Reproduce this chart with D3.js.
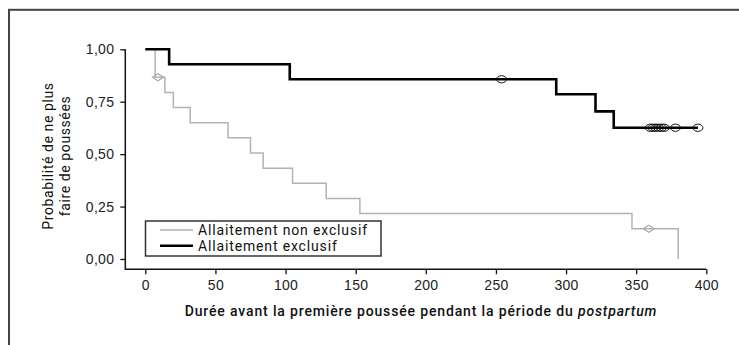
<!DOCTYPE html>
<html>
<head>
<meta charset="utf-8">
<script src="https://cdn.jsdelivr.net/npm/d3@7/dist/d3.min.js"></script>
<style>
  body { margin: 0; background: #fff; }
  svg { display: block; font-family: Roboto, "Noto Sans", sans-serif; }
  .tick text { font-size: 14px; fill: #222; letter-spacing: 0.3px; }
  .axis-title { font-size: 14px; fill: #111; }
</style>
</head>
<body>
<div class="chart"></div>
<script>
// Kaplan-Meier curves, values

// non exclusive breastfeeding (gray)
var grayTimes = [0, 7, 14, 20, 32, 59, 75, 84, 105, 129, 153, 347, 380];
var graySurv = [1, 0.867, 0.794, 0.722, 0.650, 0.578, 0.505, 0.433, 0.361, 0.289, 0.217, 0.144, 0];
var grayCensor = [9, 359];

// exclusive breastfeeding (black)
var blackTimes = [0, 17, 103, 293, 321, 334];
var blackSurv = [1, 0.929, 0.857, 0.786, 0.704, 0.626];
var blackEnd = 394;
var blackCensor = [254, 360, 362, 364, 366, 368, 370, 378, 394];

var xTicks = [0, 50, 100, 150, 200, 250, 300, 350, 400];
var yTicks = [0, 0.25, 0.5, 0.75, 1];
var legendLabels = ["Allaitement non exclusif", "Allaitement exclusif"];

var svgWidth = 739;
var svgHeight = 345;

var svg = d3.select(".chart")
  .append("svg")
  .attr("width", svgWidth)
  .attr("height", svgHeight);

// outer frame (runs off the right and bottom edges)
svg.append("rect")
  .attr("x", 9)
  .attr("y", 9.8)
  .attr("width", 800)
  .attr("height", 400)
  .attr("fill", "none")
  .attr("stroke", "#444")
  .attr("stroke-width", 2);

var xScale = d3.scaleLinear().domain([0, 400]).range([145.3, 706.3]);
var yScale = d3.scaleLinear().domain([0, 1]).range([259, 49.3]);

var axisX0 = 125.3; // where the y axis stands
var axisY0 = 269.3; // where the x axis stands

var fmt = function(d) { return d3.format(".2f")(d).replace(".", ","); };

// x axis
var gx = svg.append("g")
  .attr("transform", "translate(0," + axisY0 + ")")
  .call(d3.axisBottom(xScale).tickValues(xTicks).tickSize(5).tickPadding(6));
gx.select(".domain").remove();
gx.selectAll(".tick line").attr("stroke", "#111").attr("stroke-width", 1.3);

// y axis
var gy = svg.append("g")
  .attr("transform", "translate(" + axisX0 + ",0)")
  .call(d3.axisLeft(yScale).tickValues(yTicks).tickFormat(fmt).tickSize(5).tickPadding(6));
gy.select(".domain").remove();
gy.selectAll(".tick line").attr("stroke", "#111").attr("stroke-width", 1.3);

// L shaped axis lines
svg.append("path")
  .attr("d", "M" + axisX0 + "," + yScale(1) + "V" + axisY0 + "H" + xScale(400))
  .attr("fill", "none")
  .attr("stroke", "#111")
  .attr("stroke-width", 1.5);

// step curves
var line = d3.line()
  .x(function(d) { return xScale(d[0]); })
  .y(function(d) { return yScale(d[1]); })
  .curve(d3.curveStepAfter);

function survAt(times, surv, t) {
  var s = surv[0];
  for (var i = 0; i < times.length; i++) {
    if (times[i] <= t) s = surv[i];
  }
  return s;
}

var grayPts = grayTimes.map(function(t, i) { return [t, graySurv[i]]; });
var blackPts = blackTimes.map(function(t, i) { return [t, blackSurv[i]]; });
blackPts.push([blackEnd, blackSurv[blackSurv.length - 1]]);

svg.append("path")
  .attr("d", line(grayPts))
  .attr("fill", "none")
  .attr("stroke", "#b3b3b3")
  .attr("stroke-width", 1.5);

svg.append("path")
  .attr("d", line(blackPts))
  .attr("fill", "none")
  .attr("stroke", "#000")
  .attr("stroke-width", 2.6);

// censor marks
svg.selectAll(".diamond")
  .data(grayCensor)
  .enter().append("path")
  .attr("class", "diamond")
  .attr("d", function(t) {
    var cx = xScale(t), cy = yScale(survAt(grayTimes, graySurv, t));
    return "M" + (cx - 5.5) + "," + cy + "L" + cx + "," + (cy - 3.5) +
      "L" + (cx + 5.5) + "," + cy + "L" + cx + "," + (cy + 3.5) + "Z";
  })
  .attr("fill", "none")
  .attr("stroke", "#a8a8a8")
  .attr("stroke-width", 1.2);

svg.selectAll(".censor")
  .data(blackCensor)
  .enter().append("ellipse")
  .attr("class", "censor")
  .attr("cx", function(t) { return xScale(t); })
  .attr("cy", function(t) { return yScale(survAt(blackTimes, blackSurv, t)); })
  .attr("rx", 5)
  .attr("ry", 3.6)
  .attr("fill", "none")
  .attr("stroke", "#111")
  .attr("stroke-width", 1);

// legend
svg.append("rect")
  .attr("x", 145.5)
  .attr("y", 221)
  .attr("width", 235.5)
  .attr("height", 35)
  .attr("fill", "#fff")
  .attr("stroke", "#333")
  .attr("stroke-width", 1.5);

var legend = svg.selectAll(".legend")
  .data(legendLabels)
  .enter().append("g")
  .attr("class", "legend")
  .attr("transform", function(d, i) { return "translate(0," + (230 + i * 15.7) + ")"; });

legend.append("line")
  .attr("x1", 160).attr("x2", 193)
  .attr("stroke", function(d, i) { return i === 0 ? "#b3b3b3" : "#000"; })
  .attr("stroke-width", function(d, i) { return i === 0 ? 1.5 : 2.6; });

legend.append("text")
  .attr("x", 198)
  .attr("dy", "0.36em")
  .attr("font-size", "14px")
  .attr("letter-spacing", "0.85px")
  .attr("fill", "#111")
  .text(function(d) { return d; });

// axis titles
var xt = svg.append("text")
  .attr("class", "axis-title")
  .attr("x", 421)
  .attr("y", 316)
  .attr("text-anchor", "middle")
  .attr("letter-spacing", "0.85px")
  .attr("font-weight", 500);
xt.append("tspan").text("Durée avant la première poussée pendant la période du ");
xt.append("tspan").attr("font-style", "italic").text("postpartum");

var yt = svg.append("text")
  .attr("class", "axis-title")
  .attr("transform", "translate(53,156) rotate(-90)")
  .attr("text-anchor", "middle")
  .attr("letter-spacing", "0.6px");
yt.append("tspan").attr("x", 0).attr("y", 0).text("Probabilité de ne plus");
yt.append("tspan").attr("x", 0).attr("y", 17).text("faire de poussées");
</script>
</body>
</html>
